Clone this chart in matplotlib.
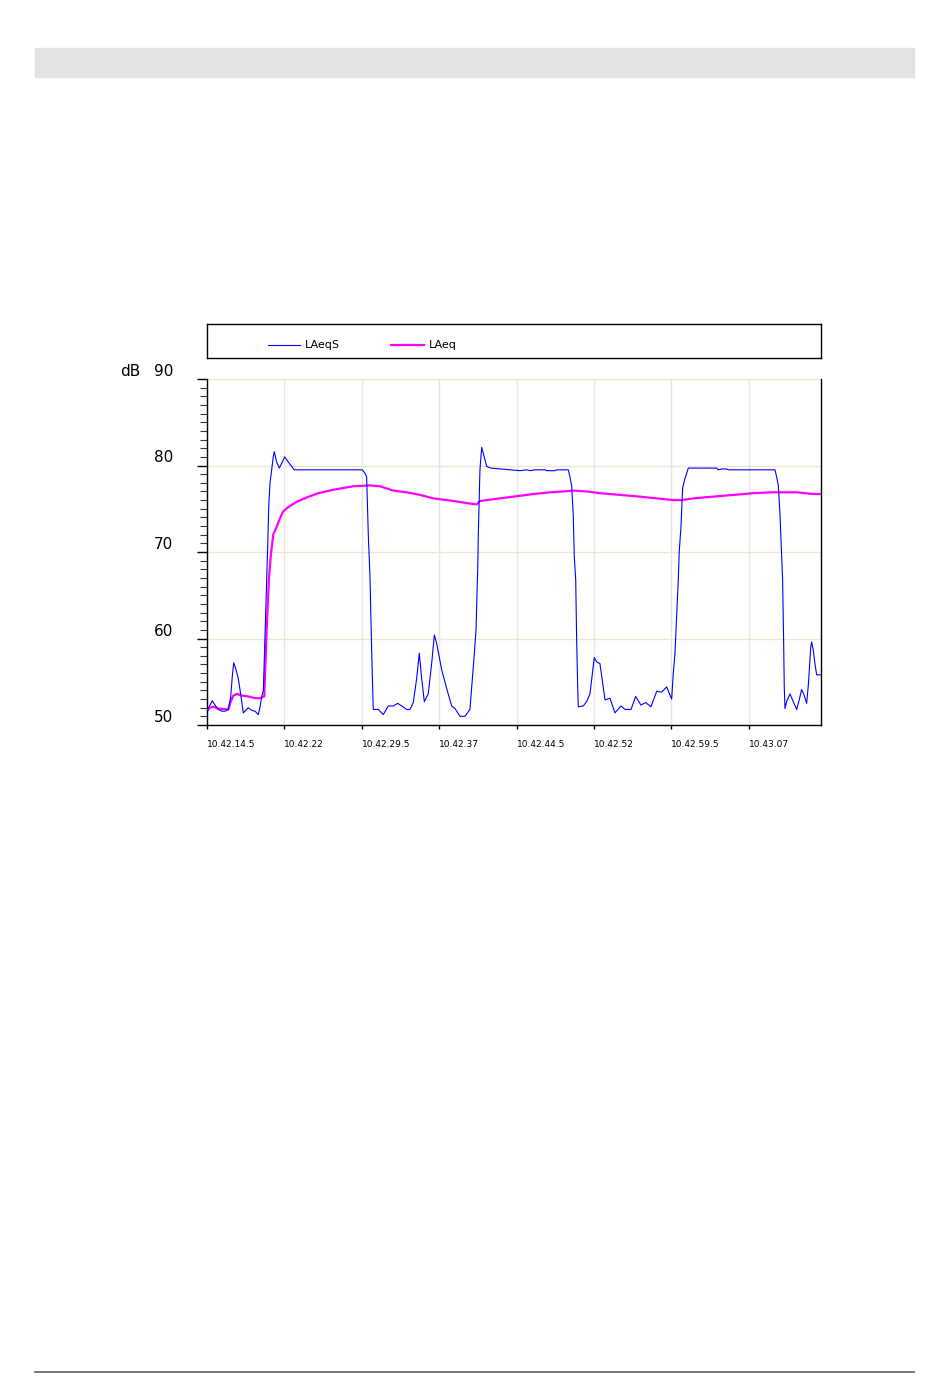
import matplotlib
matplotlib.use("Agg")
import matplotlib.pyplot as plt
from matplotlib.patches import Rectangle
from matplotlib.lines import Line2D

# time in seconds after 10.42.14.5, level in dB
laeqs_t = [0.0, 0.29, 0.51, 0.78, 1.09, 1.42, 1.74, 2.06, 2.30, 2.45, 2.59, 2.81, 3.03, 3.27,
           3.52, 3.75, 4.00, 4.33, 4.65, 4.97, 5.14, 5.30, 5.46, 5.88, 5.98, 6.10, 6.27, 6.42,
           6.52, 6.75, 7.01, 7.30, 7.53, 7.88, 8.46, 15.05, 15.31, 15.47, 15.63, 15.79, 15.96,
           16.06, 16.11, 16.60, 17.08, 17.57, 18.05, 18.48, 18.87, 19.35, 19.67, 19.99, 20.32,
           20.57, 20.80, 21.06, 21.44, 21.77, 22.03, 22.26, 22.74, 23.23, 23.71, 24.03, 24.52,
           25.00, 25.48, 25.65, 25.87, 26.07, 26.23, 26.29, 26.45, 26.62, 26.77, 26.94, 27.10,
           27.52, 29.36, 30.33, 30.98, 31.30, 31.78, 32.75, 32.92, 33.72, 33.89, 35.01, 35.17,
           35.34, 35.49, 35.59, 35.73, 35.82, 35.92, 35.98, 36.46, 36.79, 37.11, 37.34, 37.53,
           37.76, 38.08, 38.30, 38.57, 39.05, 39.53, 40.12, 40.50, 41.09, 41.54, 42.05, 42.51,
           43.02, 43.58, 44.06, 44.54, 45.03, 45.18, 45.35, 45.41, 45.67, 45.76, 45.93, 46.09,
           46.32, 46.64, 49.39, 49.55, 49.87, 50.36, 50.51, 55.04, 55.20, 55.36, 55.52, 55.69,
           55.78, 55.88, 55.94, 56.01, 56.17, 56.49, 56.81, 57.14, 57.39, 57.62, 57.85, 58.11,
           58.27, 58.36, 58.50, 58.59, 58.75, 58.91, 59.08, 59.56]
laeqs_db = [51.7, 52.3, 52.8, 52.3, 51.8, 51.6, 51.6, 51.8, 53.3, 55.6, 57.2, 56.4, 55.4, 53.5,
            51.4, 51.7, 52.0, 51.7, 51.6, 51.2, 52.1, 53.3, 54.0, 70.6, 75.2, 77.9, 79.5, 81.0,
            81.6, 80.4, 79.7, 80.4, 81.0, 80.4, 79.5, 79.5, 79.1, 78.7, 72.0, 67.3, 58.5,
            54.0, 51.8, 51.8, 51.2, 52.2, 52.2, 52.5, 52.2, 51.8, 51.8, 52.6, 55.4,
            58.3, 55.4, 52.7, 53.6, 57.1, 60.4, 59.4, 56.4, 54.2, 52.2, 51.9, 51.0,
            51.0, 51.8, 54.4, 57.7, 61.0, 67.9, 72.0, 79.5, 82.1, 81.4, 80.6, 79.9,
            79.7, 79.5, 79.4, 79.5, 79.4, 79.5, 79.5, 79.4, 79.4, 79.5, 79.5, 78.7,
            77.6, 74.3, 69.5, 66.8, 59.9, 54.6, 52.1, 52.2, 52.7, 53.6, 55.9, 57.8,
            57.3, 57.1, 55.2, 52.9, 53.1, 51.4, 52.2, 51.8, 51.8, 53.3, 52.3, 52.6,
            52.1, 53.9, 53.8, 54.4, 53.0, 55.9, 58.3, 59.9, 66.8, 70.0, 72.9, 77.4,
            78.5, 79.7, 79.7, 79.5, 79.6, 79.6, 79.5, 79.5, 78.7, 77.7, 74.5, 69.5,
            66.8, 59.6, 54.4, 51.9, 52.7, 53.6, 52.7, 51.8, 52.9, 54.1, 53.5, 52.5,
            54.6, 56.2, 58.9, 59.6, 58.7, 57.1, 55.8, 55.8]

laeq_t = [0.0, 0.29, 0.61, 1.09, 2.06, 2.30, 2.55, 2.94, 3.36, 4.00, 4.65, 5.14, 5.55, 5.62,
          5.72, 5.78, 6.01, 6.20, 6.42, 6.75, 7.07, 7.39, 7.88, 8.69, 9.66, 10.78, 12.24,
          13.21, 14.18, 15.79, 16.76, 18.05, 19.35, 20.64, 21.93, 23.87, 25.48, 26.13, 26.45,
          27.74, 29.04, 30.33, 31.62, 33.24, 34.53, 35.50, 36.79, 38.08, 40.02, 41.96, 43.58,
          45.18, 46.00, 47.12, 49.06, 51.00, 52.94, 54.72, 55.52, 57.14, 58.75, 59.50]
laeq_db = [51.6, 52.0, 52.1, 51.9, 51.8, 52.7, 53.4, 53.6, 53.4, 53.3, 53.1, 53.1, 53.3, 55.8,
           58.7, 61.0, 67.1, 69.8, 72.0, 72.9, 73.9, 74.7, 75.2, 75.8, 76.3, 76.8, 77.2,
           77.4, 77.6, 77.7, 77.6, 77.1, 76.9, 76.6, 76.2, 75.9, 75.6, 75.5, 75.9,
           76.1, 76.3, 76.5, 76.7, 76.9, 77.0, 77.1, 77.0, 76.8, 76.6, 76.4, 76.2,
           76.0, 76.0, 76.2, 76.4, 76.6, 76.8, 76.9, 76.9, 76.9, 76.7, 76.7]

xtick_pos = [0, 7.5, 15, 22.5, 30, 37.5, 45, 52.5]
xtick_labels = ["10.42.14.5", "10.42.22", "10.42.29.5", "10.42.37",
                "10.42.44.5", "10.42.52", "10.42.59.5", "10.43.07"]
ytick_pos = [50, 60, 70, 80, 90]

W, H = 950, 1397
fig = plt.figure(figsize=(W / 100, H / 100), dpi=100)

# page decorations
fig.patches.append(Rectangle((35 / W, 1 - 77 / H), 879 / W, 29 / H,
                             transform=fig.transFigure, color="#e3e3e3", zorder=0))
fig.lines.append(Line2D([35 / W, 914 / W], [1 - 1372 / H] * 2, transform=fig.transFigure,
                        color="#707070", lw=1.3))

ax = fig.add_axes([207 / W, 1 - 725 / H, 614 / W, 346 / H])
grid_c = "#ebe7d7"
l1, = ax.plot(laeqs_t, laeqs_db, color="#0000ff", lw=0.8, label="LAeqS", zorder=3)
l2, = ax.plot(laeq_t, laeq_db, color="#ff00ff", lw=1.6, label="LAeq", zorder=2)

ax.set_xlim(0, 59.5)
ax.set_ylim(50, 90)
ax.set_xticks(xtick_pos, xtick_labels)
ax.set_yticks(ytick_pos, [str(v) for v in ytick_pos])
ax.set_yticks(range(50, 91), minor=True)
ax.grid(True, color=grid_c, lw=1)
ax.set_axisbelow(True)

ax.spines["top"].set_visible(False)
for s in ["left", "right", "bottom"]:
    ax.spines[s].set_color("black")
    ax.spines[s].set_linewidth(1)

ax.tick_params(axis="x", length=3, width=1, pad=8, labelsize=6.5)
ax.tick_params(axis="y", which="major", length=7.5, width=1, pad=17, labelsize=11)
ax.tick_params(axis="y", which="minor", length=5, width=0.8, color="#333333")
plt.setp(ax.get_xticklabels(), ha="left")
plt.setp(ax.get_yticklabels(), va="bottom")

fig.text(140 / W, 1 - 371 / H, "dB", ha="right", va="center", fontsize=11)

# legend box
lax = fig.add_axes([207 / W, 1 - 358 / H, 614 / W, 34 / H])
lax.set_xticks([])
lax.set_yticks([])
for s in lax.spines.values():
    s.set_linewidth(1)
lax.legend(handles=[l1, l2], loc="center left", bbox_to_anchor=(61 / 614, 0.37), ncol=2,
           frameon=False, fontsize=8, handlelength=2.9, handletextpad=0.45,
           columnspacing=4.6, borderpad=0, borderaxespad=0)

fig.savefig("out.png", dpi=100, facecolor="white")
